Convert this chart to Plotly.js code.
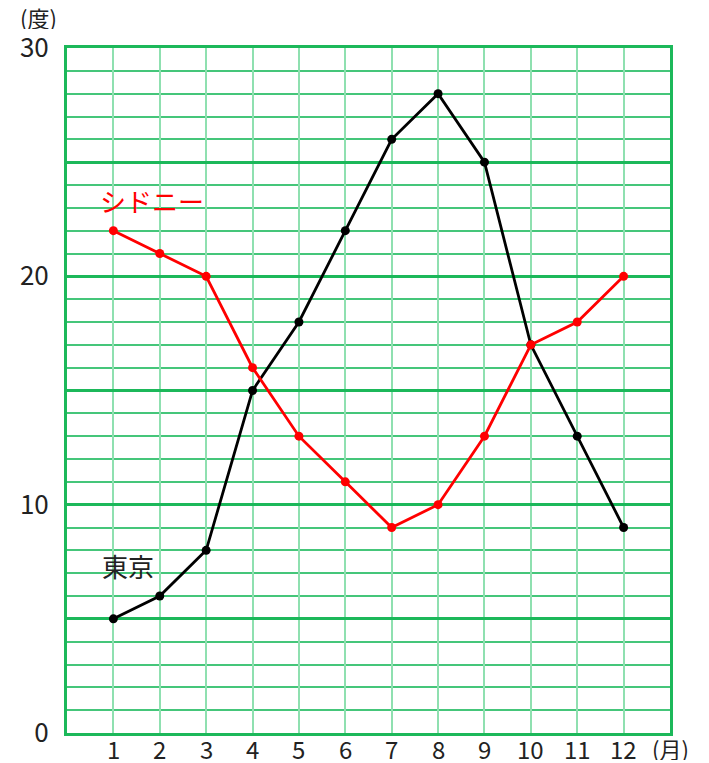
<!DOCTYPE html>
<html>
<head>
<meta charset="utf-8">
<script src="https://cdn.plot.ly/plotly-3.0.1.min.js"></script>
<style>
  html, body { margin: 0; padding: 0; background: #fff; }
  #chart { width: 709px; height: 763px; }
</style>
</head>
<body>
<div id="chart"></div>
<script>
// months and monthly mean temperatures (度)
const months = [1, 2, 3, 4, 5, 6, 7, 8, 9, 10, 11, 12];
const tokyo = [5, 6, 8, 15, 18, 22, 26, 28, 25, 17, 13, 9];
const sydney = [22, 21, 20, 16, 13, 11, 9, 10, 13, 17, 18, 20];

const yTickVals = [0, 5, 10, 15, 20, 25, 30];
const yTickText = ['0', '', '10', '', '20', '', '30'];
const xTickText = ['1', '2', '3', '4', '5', '6', '7', '8', '9', '10', '11', '12'];

const FONT = '"Noto Sans CJK JP", "Noto Sans", sans-serif';
const GREEN = '#1cb85a';

const traces = [
  {
    x: months, y: tokyo, name: '東京',
    mode: 'lines+markers',
    line: { color: '#000', width: 2.8 },
    marker: { color: '#000', size: 9 }
  },
  {
    x: months, y: sydney, name: 'シドニー',
    mode: 'lines+markers',
    line: { color: '#ff0000', width: 2.8 },
    marker: { color: '#ff0000', size: 9 }
  }
];

// x tick labels sit tight under the axis, closer than plotly's own labels go,
// so they are drawn as annotations pinned to the month positions
const monthLabels = months.map((m, i) => ({
  x: m, xref: 'x', yref: 'paper', y: 0,
  yanchor: 'middle', yshift: -15, height: 24,
  text: xTickText[i], showarrow: false,
  font: { size: 24, color: '#222' }
}));

const layout = {
  width: 709,
  height: 763,
  margin: { l: 67, r: 39, t: 48, b: 30 },
  paper_bgcolor: '#fff',
  plot_bgcolor: '#fff',
  showlegend: false,
  font: { family: FONT, color: '#222', size: 26 },
  xaxis: {
    range: [0, 13],
    tickvals: months,
    showticklabels: false,
    showgrid: true,
    gridcolor: '#8fe0b0',
    gridwidth: 2,
    zeroline: false,
    showline: true,
    mirror: true,
    linecolor: GREEN,
    linewidth: 3,
    ticks: '',
    fixedrange: true
  },
  yaxis: {
    range: [0, 30],
    tickvals: yTickVals,
    ticktext: yTickText,
    showgrid: true,
    gridcolor: GREEN,
    gridwidth: 3,
    minor: { dtick: 1, showgrid: true, gridcolor: '#45c67a', gridwidth: 2 },
    zeroline: false,
    showline: true,
    mirror: true,
    linecolor: GREEN,
    linewidth: 3,
    ticks: '',
    ticklabelstandoff: 10,
    tickfont: { family: FONT, size: 26, color: '#222' },
    fixedrange: true
  },
  annotations: [
    { xref: 'paper', yref: 'paper', x: 0, y: 1, xanchor: 'center', yanchor: 'middle',
      xshift: -29, yshift: 31, height: 24,
      text: '(度)', showarrow: false, font: { size: 22, color: '#222' } },
    { xref: 'paper', yref: 'paper', x: 1, y: 0, xanchor: 'center', yanchor: 'middle',
      yshift: -15, height: 24,
      text: '(月)', showarrow: false, font: { size: 22, color: '#222' } },
    { x: 1.83, y: 23.3, text: 'シドニー', showarrow: false,
      font: { size: 26, color: '#ff0000' } },
    { x: 1.31, y: 7.35, text: '東京', showarrow: false,
      font: { size: 26, color: '#222' } }
  ].concat(monthLabels)
};

Plotly.newPlot('chart', traces, layout, { staticPlot: true });
</script>
</body>
</html>
